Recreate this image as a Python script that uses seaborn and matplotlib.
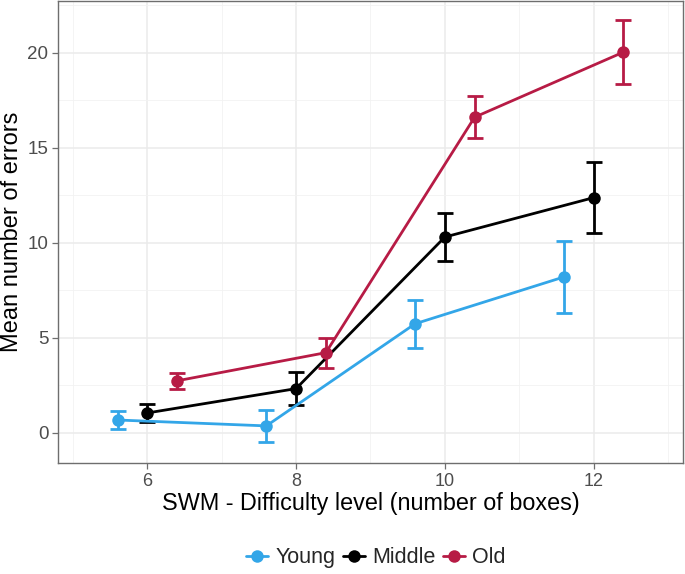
import numpy as np
import pandas as pd
import matplotlib
matplotlib.use("Agg")
import matplotlib.pyplot as plt
import seaborn as sns

levels = [6, 8, 10, 12]
groups = ["Young", "Middle", "Old"]
young_mean = [0.68, 0.37, 5.74, 8.2]
young_err = [0.45, 0.85, 1.27, 1.9]
middle_mean = [1.05, 2.33, 10.3, 12.37]
middle_err = [0.45, 0.85, 1.25, 1.87]
old_mean = [2.74, 4.22, 16.6, 20.02]
old_err = [0.42, 0.78, 1.12, 1.68]
colors = {"Young": "#33A6E8", "Middle": "#000000", "Old": "#B71B45"}
dodge = {"Young": -0.4, "Middle": 0.0, "Old": 0.4}

rows = []
for g, m, e in [("Young", young_mean, young_err), ("Middle", middle_mean, middle_err), ("Old", old_mean, old_err)]:
    for lv, mv, ev in zip(levels, m, e):
        rows.append({"group": g, "level": lv, "x": lv + dodge[g], "mean": mv, "err": ev})
df = pd.DataFrame(rows)

sns.set_theme(style="white")
plt.rcParams["font.family"] = ["Liberation Sans", "DejaVu Sans"]

fig = plt.figure(figsize=(6.85, 5.74), dpi=100)
ax = fig.add_axes([0.0847, 0.1934, 0.9123, 0.8046])

for g in groups:
    sub = df[df.group == g]
    ax.errorbar(sub["x"], sub["mean"], yerr=sub["err"], fmt="none", ecolor=colors[g],
                elinewidth=2.0, capsize=5.5, capthick=2.0, zorder=3)
sns.lineplot(data=df, x="x", y="mean", hue="group", hue_order=groups, palette=colors,
             marker="o", markersize=9, markeredgewidth=0, linewidth=2.0, ax=ax,
             estimator=None, sort=True, zorder=4)

ax.set_xlim(4.8, 13.2)
ax.set_ylim(-1.58, 22.7)
ax.set_xticks(levels)
ax.set_yticks([0, 5, 10, 15, 20])
ax.set_xticks([5, 7, 9, 11, 13], minor=True)
ax.set_yticks([2.5, 7.5, 12.5, 17.5, 22.5], minor=True)
ax.grid(True, which="major", color="#EBEBEB", linewidth=1.1)
ax.grid(True, which="minor", color="#F2F2F2", linewidth=0.6)
ax.set_axisbelow(True)
for s in ax.spines.values():
    s.set_color("#6E6E6E")
    s.set_linewidth(1.0)
ax.tick_params(axis="both", which="major", length=4, width=0.9, color="#6E6E6E",
               labelcolor="#4D4D4D", bottom=True, left=True, pad=3)
ax.tick_params(axis="x", which="major", labelsize=13)
ax.tick_params(axis="y", which="major", labelsize=13.5)
ax.tick_params(axis="both", which="minor", length=0)
ax.set_xlabel("SWM - Difficulty level (number of boxes)", fontsize=16.8, color="black", labelpad=2)
ax.set_ylabel("Mean number of errors", fontsize=17, color="black")
ax.yaxis.set_label_coords(-0.056, 0.5)

ax.legend_.remove()
handles = [plt.Line2D([0], [0], color=colors[g], marker="o", markersize=9, linewidth=2.0,
                      markeredgewidth=0) for g in groups]
fig.legend(handles, groups, loc="center", bbox_to_anchor=(0.549, 0.028), ncol=3, frameon=False,
           fontsize=15.5, handlelength=1.0, handletextpad=0.35, columnspacing=0.35)

fig.savefig("out.png", dpi=100)
